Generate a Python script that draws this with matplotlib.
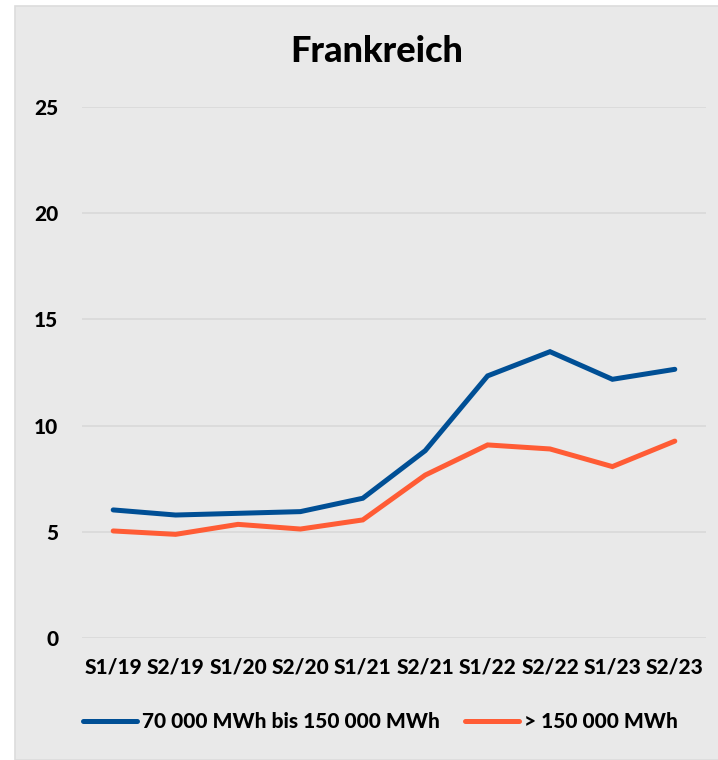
import matplotlib
matplotlib.use("Agg")
import matplotlib.pyplot as plt
from matplotlib.patches import Rectangle

plt.rcParams['font.family'] = ['Lato', 'DejaVu Sans']
plt.rcParams['font.weight'] = 'black'

periods = ['S1/19', 'S2/19', 'S1/20', 'S2/20', 'S1/21', 'S2/21', 'S1/22', 'S2/22', 'S1/23', 'S2/23']
mid_users = [6.03, 5.79, 5.87, 5.95, 6.58, 8.82, 12.34, 13.48, 12.18, 12.65]
big_users = [5.04, 4.88, 5.35, 5.13, 5.56, 7.67, 9.09, 8.90, 8.07, 9.27]
labels = ['70 000 MWh bis 150 000 MWh', '> 150 000 MWh']

bg = '#e9e9e9'
fig = plt.figure(figsize=(7.18, 7.6), dpi=100, facecolor='white')
# grey panel with a thin white margin at top/left
fig.patches.append(Rectangle((15 / 718, 0), 1, 1 - 6 / 760, transform=fig.transFigure,
                             facecolor=bg, edgecolor='#dcdcdc', linewidth=1.2, zorder=-10))

ax = fig.add_axes([82 / 718, 1 - 638 / 760, 624 / 718, 531 / 760])
ax.set_facecolor(bg)
ax.patch.set_alpha(0)

x = range(len(periods))
ax.plot(x, mid_users, color='#004f95', linewidth=3.6, solid_capstyle='round', solid_joinstyle='miter', label=labels[0])
ax.plot(x, big_users, color='#ff5c35', linewidth=3.6, solid_capstyle='round', solid_joinstyle='miter', label=labels[1])

ax.set_xlim(-0.5, len(periods) - 0.5)
ax.set_ylim(0, 25)
ax.set_yticks([0, 5, 10, 15, 20, 25])
ax.set_xticks(list(x))
ax.set_xticklabels(periods)
ax.grid(axis='y', color='#d9d9d9', linewidth=1.2)
ax.set_axisbelow(True)
for s in ax.spines.values():
    s.set_visible(False)
ax.tick_params(axis='both', length=0, labelsize=15)
ax.tick_params(axis='y', pad=17)
ax.tick_params(axis='x', pad=14)

fig.text(0.525, 1 - 52 / 760, 'Frankreich', ha='center', va='center', fontsize=26, fontweight='black')

fig.legend(loc='center', bbox_to_anchor=(0.53, 1 - 722 / 760), ncol=2, frameon=False,
           fontsize=15, handlelength=2.6, handletextpad=0.25, columnspacing=1.2)

fig.savefig('out.png', dpi=100, facecolor=fig.get_facecolor())
